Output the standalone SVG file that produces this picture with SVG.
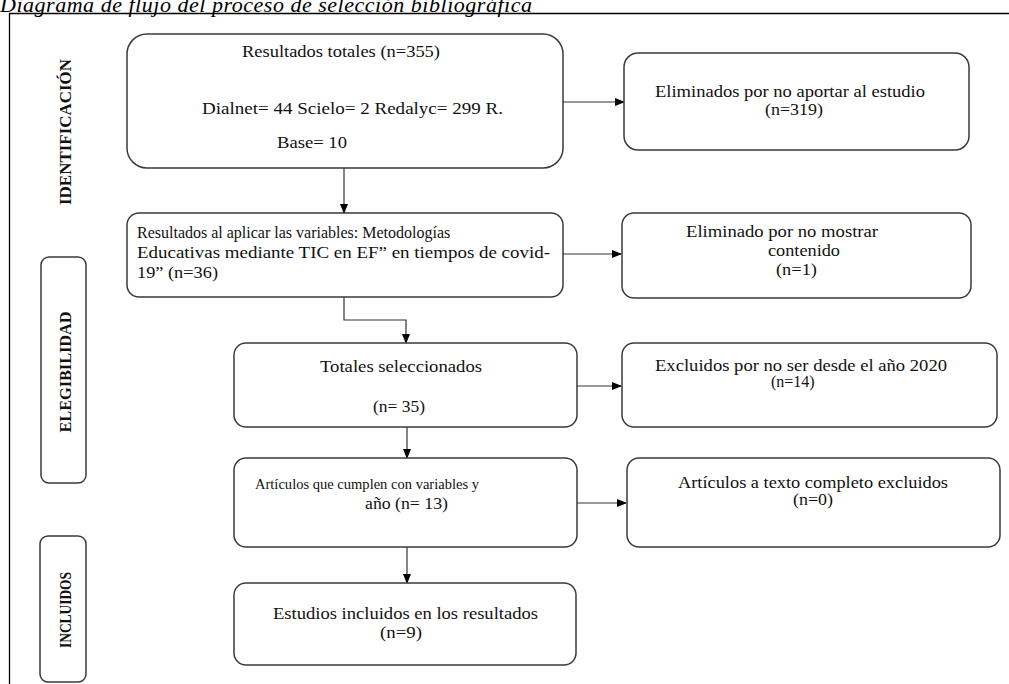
<svg xmlns="http://www.w3.org/2000/svg" width="1009" height="684" viewBox="0 0 1009 684">
<style>
.box{fill:#fff;stroke:#3a3a3a;stroke-width:1.5}
.t{font-family:"Liberation Serif","Times New Roman",serif;font-size:16px;fill:#111}
.c{text-anchor:middle}
.lab{font-family:"Liberation Serif","Times New Roman",serif;font-size:17px;font-weight:bold;fill:#111;text-anchor:middle}
.ln{fill:none;stroke:#333;stroke-width:1.2}
</style>
<defs>
<marker id="ah" markerWidth="10" markerHeight="8" refX="9" refY="4" orient="auto" markerUnits="userSpaceOnUse">
<path d="M0,0 L10,4 L0,8 Z" fill="#000"/>
</marker>
</defs>
<rect width="1009" height="684" fill="#fff"/>
<text x="0" y="12" font-family="'Liberation Serif','Times New Roman',serif" font-size="22" font-style="italic" fill="#000" textLength="532" lengthAdjust="spacing">Diagrama de flujo del proceso de selección bibliográfica</text>
<path d="M9.5,684 V13.5 H1009" fill="none" stroke="#000" stroke-width="1.3"/>

<g id="lab-identificacion">
<text class="lab" transform="translate(71,132) rotate(-90)" textLength="146" lengthAdjust="spacingAndGlyphs">IDENTIFICACIÓN</text>
</g>
<g id="lab-elegibilidad">
<rect class="box" x="41" y="257" width="45" height="226" rx="8"/>
<text class="lab" transform="translate(71,372) rotate(-90)" textLength="121" lengthAdjust="spacingAndGlyphs">ELEGIBILIDAD</text>
</g>
<g id="lab-incluidos">
<rect class="box" x="40" y="536" width="46" height="146" rx="8"/>
<text class="lab" transform="translate(71,610) rotate(-90)" textLength="76" lengthAdjust="spacingAndGlyphs">INCLUIDOS</text>
</g>

<g id="connectors">
<path class="ln" d="M563,102 H624" marker-end="url(#ah)"/>
<path class="ln" d="M344,168 V213" marker-end="url(#ah)"/>
<path class="ln" d="M563,254 H621" marker-end="url(#ah)"/>
<path class="ln" d="M344,297 V320 H406 V343" marker-end="url(#ah)"/>
<path class="ln" d="M577,386 H621" marker-end="url(#ah)"/>
<path class="ln" d="M407,427 V458" marker-end="url(#ah)"/>
<path class="ln" d="M577,503 H626" marker-end="url(#ah)"/>
<path class="ln" d="M407,547 V583" marker-end="url(#ah)"/>
</g>

<g id="n1">
<rect class="box" x="127" y="34" width="436" height="134" rx="20"/>
<text class="t" x="242" y="57" textLength="198" lengthAdjust="spacingAndGlyphs">Resultados totales (n=355)</text>
<text class="t" x="202" y="114" textLength="301" lengthAdjust="spacingAndGlyphs">Dialnet= 44 Scielo= 2 Redalyc= 299 R.</text>
<text class="t" x="277" y="148" textLength="70" lengthAdjust="spacingAndGlyphs">Base= 10</text>
</g>
<g id="n2">
<rect class="box" x="624" y="53" width="345" height="97" rx="14"/>
<text class="t" x="655" y="97" textLength="270" lengthAdjust="spacingAndGlyphs">Eliminados por no aportar al estudio</text>
<text class="t" x="765" y="115" textLength="58" lengthAdjust="spacingAndGlyphs">(n=319)</text>
</g>
<g id="n3">
<rect class="box" x="127" y="213" width="436" height="84" rx="12"/>
<text class="t" x="137" y="238">Resultados al aplicar las variables: Metodologías</text>
<text class="t" x="137" y="258" textLength="413" lengthAdjust="spacingAndGlyphs">Educativas mediante TIC en EF” en tiempos de covid-</text>
<text class="t" x="137" y="278" textLength="81" lengthAdjust="spacingAndGlyphs">19” (n=36)</text>
</g>
<g id="n4">
<rect class="box" x="622" y="213" width="349" height="85" rx="12"/>
<text class="t" x="686" y="237" textLength="192" lengthAdjust="spacingAndGlyphs">Eliminado por no mostrar</text>
<text class="t" x="768" y="256" textLength="72" lengthAdjust="spacingAndGlyphs">contenido</text>
<text class="t" x="776" y="275" textLength="41" lengthAdjust="spacingAndGlyphs">(n=1)</text>
</g>
<g id="n5">
<rect class="box" x="234" y="343" width="343" height="84" rx="12"/>
<text class="t" x="320" y="372" textLength="162" lengthAdjust="spacingAndGlyphs">Totales seleccionados</text>
<text class="t" x="373" y="412" textLength="52" lengthAdjust="spacingAndGlyphs">(n= 35)</text>
</g>
<g id="n6">
<rect class="box" x="622" y="343" width="375" height="84" rx="12"/>
<text class="t" x="655" y="371" textLength="292" lengthAdjust="spacingAndGlyphs">Excluidos por no ser desde el año 2020</text>
<text class="t" x="771" y="387">(n=14)</text>
</g>
<g id="n7">
<rect class="box" x="234" y="458" width="343" height="89" rx="12"/>
<text class="t" x="255" y="489" style="font-size:15px" textLength="224" lengthAdjust="spacingAndGlyphs">Artículos que cumplen con variables y</text>
<text class="t" x="365" y="509" textLength="83" lengthAdjust="spacingAndGlyphs">año (n= 13)</text>
</g>
<g id="n8">
<rect class="box" x="627" y="458" width="373" height="89" rx="12"/>
<text class="t" x="678" y="488" textLength="270" lengthAdjust="spacingAndGlyphs">Artículos a texto completo excluidos</text>
<text class="t" x="793" y="505" textLength="40" lengthAdjust="spacingAndGlyphs">(n=0)</text>
</g>
<g id="n9">
<rect class="box" x="234" y="583" width="342" height="82" rx="12"/>
<text class="t" x="273" y="619" textLength="265" lengthAdjust="spacingAndGlyphs">Estudios incluidos en los resultados</text>
<text class="t" x="380" y="638" textLength="42" lengthAdjust="spacingAndGlyphs">(n=9)</text>
</g>
</svg>
